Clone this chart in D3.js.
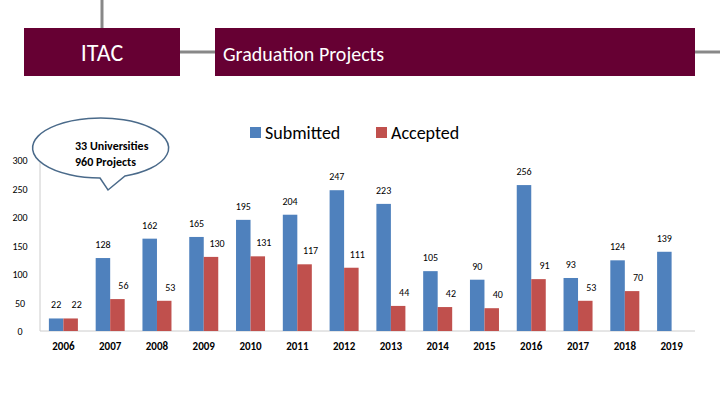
<!DOCTYPE html>
<html><head><meta charset="utf-8">
<script src="https://cdn.jsdelivr.net/npm/d3@7"></script>
<style>body{margin:0;background:#fff}text{font-family:Calibri,Carlito,"Open Sans",sans-serif}</style>
</head><body><svg id="c" width="720" height="405"></svg>
<script>
const years=["2006","2007","2008","2009","2010","2011","2012","2013","2014","2015","2016","2017","2018","2019"];
const submitted=[22,128,162,165,195,204,247,223,105,90,256,93,124,139];
const accepted=[22,56,53,130,131,117,111,44,42,40,91,53,70,null];
const yTicks=[0,50,100,150,200,250,300];
const svg=d3.select("#c");
const maroon="#660033";
// header
svg.append("line").attr("x1",102).attr("x2",102).attr("y1",0).attr("y2",28).attr("stroke","#888").attr("stroke-width",3);
svg.append("line").attr("x1",180).attr("x2",215).attr("y1",52).attr("y2",52).attr("stroke","#888").attr("stroke-width",3);
svg.append("line").attr("x1",695).attr("x2",720).attr("y1",52).attr("y2",52).attr("stroke","#888").attr("stroke-width",3);
svg.append("rect").attr("x",24).attr("y",28).attr("width",156).attr("height",48).attr("fill",maroon);
svg.append("rect").attr("x",215).attr("y",28).attr("width",480).attr("height",48).attr("fill",maroon);
svg.append("text").attr("x",102).attr("y",61).attr("text-anchor","middle").attr("fill","#fff").attr("font-size",24).text("ITAC");
svg.append("text").attr("x",223).attr("y",61).attr("fill","#fff").attr("font-size",20).text("Graduation Projects");
// scales
const x=d3.scaleBand().domain(years).range([40,695]).paddingInner(0.38).paddingOuter(0.19);
const y=d3.scaleLinear().domain([0,300]).range([331,160]);
const bw=x.bandwidth()/2;
svg.append("line").attr("x1",40).attr("x2",40).attr("y1",160).attr("y2",331).attr("stroke","#ccc");
svg.append("line").attr("x1",40).attr("x2",695).attr("y1",331).attr("y2",331).attr("stroke","#ccc");
svg.selectAll(".yt").data(yTicks).join("text").attr("x",20).attr("y",d=>y(d)+4).attr("text-anchor","middle").attr("font-size",10).text(d=>d);
svg.selectAll(".xt").data(years).join("text").attr("x",d=>x(d)+x.bandwidth()/2).attr("y",350).attr("text-anchor","middle").attr("font-size",11).attr("font-weight","bold").text(d=>d);
const g=svg.append("g");
g.selectAll(".s").data(submitted).join("rect").attr("x",(d,i)=>x(years[i])).attr("y",d=>y(d)).attr("width",bw).attr("height",d=>331-y(d)).attr("fill","#4f81bd");
g.selectAll(".a").data(accepted).join("rect").filter(d=>d!=null).attr("x",(d,i)=>x(years[i])+bw).attr("y",d=>y(d)).attr("width",bw).attr("height",d=>331-y(d)).attr("fill","#c0504d");
g.selectAll(".sl").data(submitted).join("text").attr("x",(d,i)=>x(years[i])+bw/2).attr("y",d=>y(d)-10).attr("text-anchor","middle").attr("font-size",10).text(d=>d);
g.selectAll(".al").data(accepted).join("text").filter(d=>d!=null).attr("x",(d,i)=>x(years[i])+bw*1.5+6).attr("y",d=>y(d)-10).attr("text-anchor","middle").attr("font-size",10).text(d=>d);
// legend
svg.append("rect").attr("x",250).attr("y",127).attr("width",11).attr("height",11).attr("fill","#4f81bd");
svg.append("text").attr("x",265).attr("y",139).attr("font-size",18).text("Submitted");
svg.append("rect").attr("x",376).attr("y",127).attr("width",11).attr("height",11).attr("fill","#c0504d");
svg.append("text").attr("x",391).attr("y",139).attr("font-size",18).text("Accepted");
// callout
svg.append("path").attr("d","M100,178 L108,190 L125,176 A68,30 0 1 0 100,178 Z").attr("fill","#fff").attr("stroke","#4a6a8a").attr("stroke-width",1.5);
svg.append("text").attr("x",75).attr("y",150).attr("font-size",12).attr("font-weight","bold").text("33 Universities");
svg.append("text").attr("x",75).attr("y",166).attr("font-size",12).attr("font-weight","bold").text("960  Projects");
</script></body></html>
